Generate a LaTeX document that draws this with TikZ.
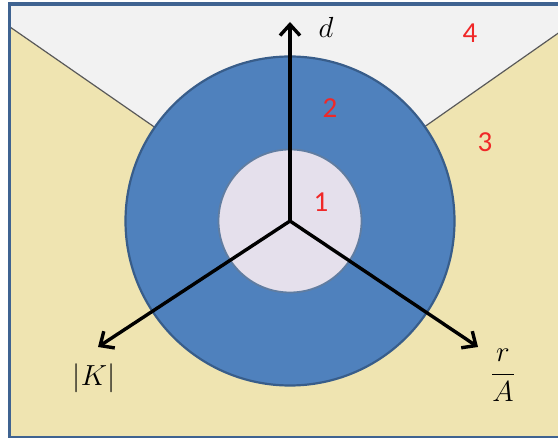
\documentclass[tikz,border=0pt]{standalone}
\usepackage{fontspec}
\newfontfamily\numfont{Carlito}
\usetikzlibrary{arrows.meta}
\definecolor{yellowbg}{RGB}{239,228,177}
\definecolor{graybg}{RGB}{242,242,242}
\definecolor{ringblue}{RGB}{79,129,189}
\definecolor{ringedge}{RGB}{56,93,138}
\definecolor{innerfill}{RGB}{229,224,236}
\definecolor{framecol}{RGB}{63,99,145}
\definecolor{numred}{RGB}{240,40,40}
\begin{document}
\begin{tikzpicture}[x=1pt,y=-1pt,
  wedgeline/.style={draw=black!65,line width=1.2pt},
  ring/.style={circle,draw=ringedge,line width=2.2pt,inner sep=0pt},
  axisline/.style={line width=3.4pt,-{Straight Barb[length=11pt,width=20pt]}},
  numlabel/.style={text=numred,font=\numfont\fontsize{29}{34}\selectfont,inner sep=0pt},
  mathlabel/.style={font=\fontsize{20}{24}\selectfont,scale=1.4,inner sep=0pt}]
\useasboundingbox (0,0) rectangle (558,438);
\coordinate (O) at (290,221);
\coordinate (TL) at (9.3,26.5);
\coordinate (TR) at (562,30.5);
\fill[yellowbg] (9.3,4) rectangle (565,437.5);
\fill[graybg] (O) -- (TL) -- (9.3,4) -- (565,4) -- (TR) -- cycle;
\draw[wedgeline] (O) -- (TL);
\draw[wedgeline] (O) -- (TR);
\node[ring,fill=ringblue,minimum size=329pt] (outer) at (O) {};
\node[ring,fill=innerfill,minimum size=143pt,draw=ringedge!80,line width=1.8pt] (inner) at (O) {};
\draw[framecol,line width=3.6pt] (9.3,4) rectangle (570,437.5);
\coordinate (dEnd) at (290,22);
\coordinate (kEnd) at (98,347);
\coordinate (rEnd) at (478,347);
\draw[axisline] (O) -- (dEnd);
\draw[axisline] (O) -- (kEnd);
\draw[axisline] (O) -- (rEnd);
\node[mathlabel] (dlab) at (326,27) {$d$};
\node[mathlabel] (klab) at (94,378) {$|K|$};
\node[mathlabel] (rlab) at (503,375) {$\displaystyle\frac{r}{A}$};
\node[numlabel] (n4) at (470,33.5) {4};
\node[numlabel] (n3) at (485,142) {3};
\node[numlabel] (n2) at (330,108) {2};
\node[numlabel] (n1) at (321,202) {1};
\end{tikzpicture}
\end{document}
